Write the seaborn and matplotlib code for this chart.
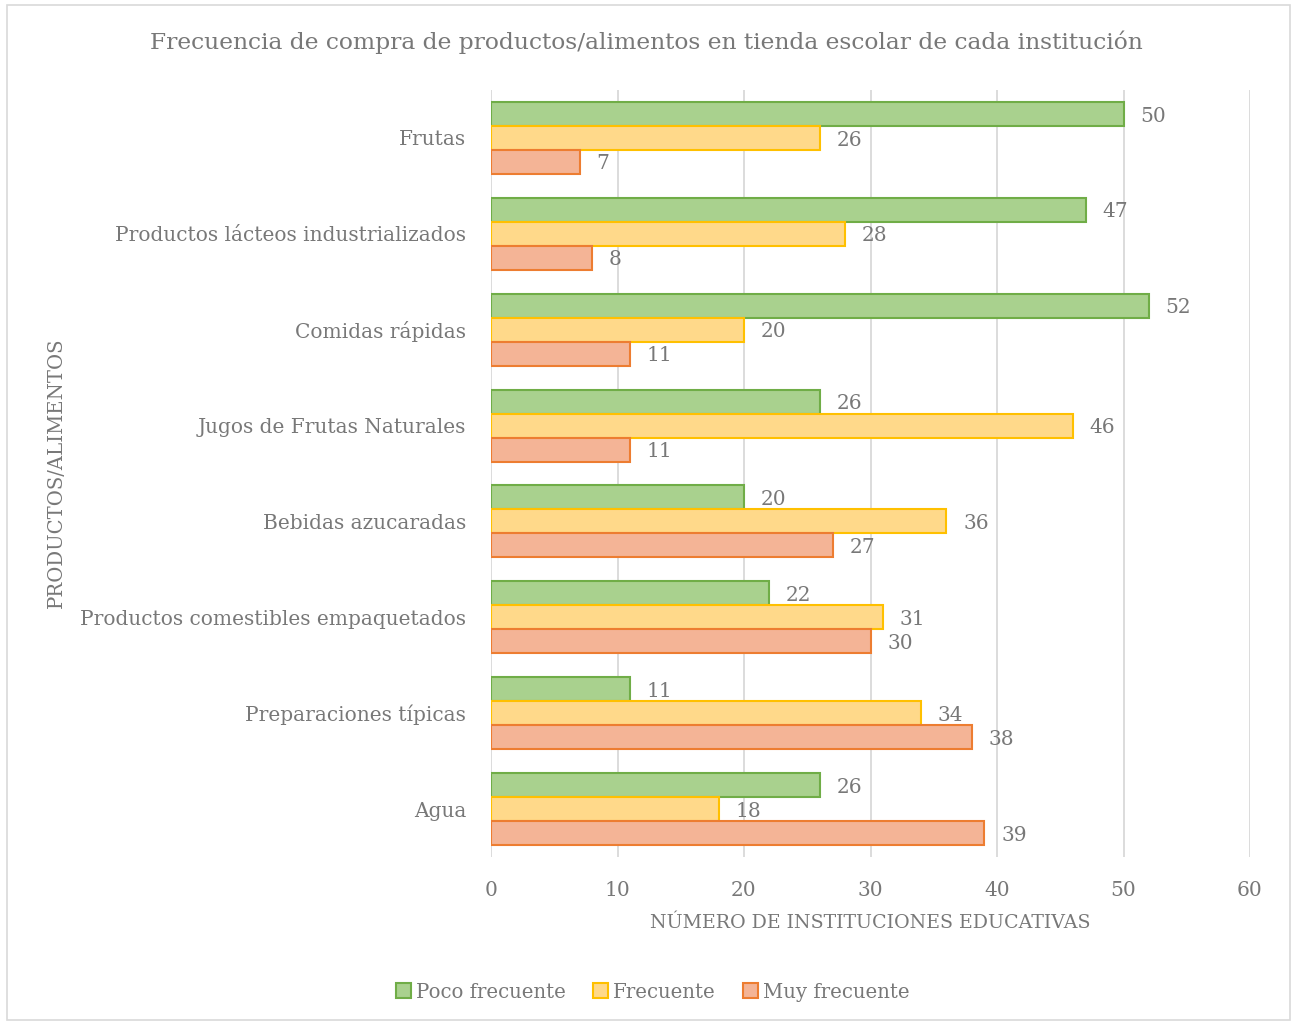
import matplotlib
matplotlib.use("Agg")
import matplotlib.pyplot as plt
import seaborn as sns
import pandas as pd
from matplotlib.patches import Rectangle, Patch

categories = ["Frutas", "Productos lácteos industrializados", "Comidas rápidas",
              "Jugos de Frutas Naturales", "Bebidas azucaradas",
              "Productos comestibles empaquetados", "Preparaciones típicas", "Agua"]
series_names = ["Poco frecuente", "Frecuente", "Muy frecuente"]
poco_frecuente = [50, 47, 52, 26, 20, 22, 11, 26]
frecuente = [26, 28, 20, 46, 36, 31, 34, 18]
muy_frecuente = [7, 8, 11, 11, 27, 30, 38, 39]
x_ticks = [0, 10, 20, 30, 40, 50, 60]

title = "Frecuencia de compra de productos/alimentos en tienda escolar de cada institución"
x_label = "NÚMERO DE INSTITUCIONES EDUCATIVAS"
y_label = "PRODUCTOS/ALIMENTOS"

fills = ["#a9d18e", "#ffd98a", "#f4b496"]
edges = ["#70ad47", "#ffc000", "#ed7d31"]
text_color = "#787878"

rows = []
for name, vals in zip(series_names, [poco_frecuente, frecuente, muy_frecuente]):
    for c, v in zip(categories, vals):
        rows.append({"cat": c, "val": v, "serie": name})
df = pd.DataFrame(rows)

sns.set_style("white")
plt.rcParams["font.family"] = ["DejaVu Serif"]

fig = plt.figure(figsize=(12.92, 10.23), dpi=100)
ax = fig.add_axes([491/1292, 1-857/1023, (1250-491)/1292, (857-90)/1023])

sns.barplot(data=df, y="cat", x="val", hue="serie", orient="h",
            order=categories, hue_order=series_names, palette=fills,
            width=0.75, dodge=True, ax=ax, legend=False, saturation=1)

for cont, ec in zip(ax.containers, edges):
    for bar in cont:
        bar.set_edgecolor(ec)
        bar.set_linewidth(1.5)
    labels = ax.bar_label(cont, padding=12, fontsize=14.5, color=text_color)
    for t in labels:
        t.set_va("center")
        t.xyann = (t.xyann[0], t.xyann[1] - 1.5)

ax.set_xlim(0, 60)
ax.set_xticks(x_ticks)
ax.set_ylim(len(categories) - 0.5, -0.5)
ax.grid(axis="x", color="#d9d9d9", linewidth=1.3)
ax.grid(axis="y", visible=False)
ax.set_axisbelow(True)
for s in ax.spines.values():
    s.set_visible(False)
ax.tick_params(axis="both", length=0, labelsize=14.5, labelcolor=text_color)
ax.tick_params(axis="x", pad=17)
ax.tick_params(axis="y", pad=18)
ax.set_xlabel(x_label, fontsize=13.7, color=text_color, labelpad=10)
ax.set_ylabel("")
fig.text(56/1292, 1-473/1023, y_label, rotation=90, fontsize=14.1,
         color=text_color, ha="center", va="center")

fig.text(0.5, 1-42/1023, title, fontsize=16.8, color=text_color,
         ha="center", va="center")

handles = [Patch(facecolor=f, edgecolor=e, linewidth=1.5) for f, e in zip(fills, edges)]
fig.legend(handles, series_names, loc="center", bbox_to_anchor=(653/1292, 1-992/1023),
           ncol=3, frameon=False, fontsize=14.2, labelcolor=text_color,
           handlelength=0.75, handleheight=0.75, handletextpad=0.25, columnspacing=1.4)

fig.patches.append(Rectangle((7/1292, 3/1023), 1283/1292, 1015/1023,
                             transform=fig.transFigure, fill=False,
                             edgecolor="#d9d9d9", linewidth=1.2))

fig.savefig("out.png", dpi=100, facecolor="white")
